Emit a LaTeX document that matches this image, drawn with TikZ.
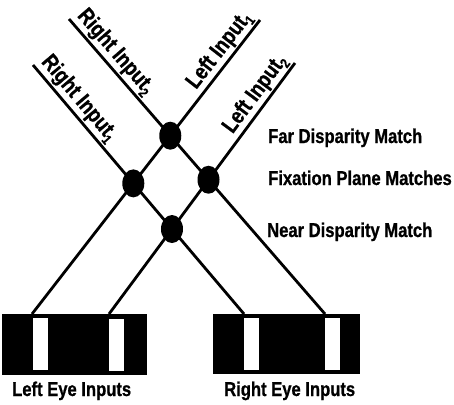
\documentclass[tikz,border=0pt]{standalone}
\usepackage{fontspec}
\usetikzlibrary{shapes.geometric}
\newfontfamily\lblfont{Liberation Sans}[FakeStretch=0.83, FakeBold=0.8]
\newcommand\lowidx[1]{\raisebox{-4.5pt}{\fontsize{14}{14}\selectfont #1}}
\begin{document}
\begin{tikzpicture}[x=1pt,y=-1pt,
  wire/.style={line width=2.8pt},
  dot/.style={ellipse,fill=black,minimum width=22pt,minimum height=28pt,inner sep=0pt},
  lbl/.style={font=\lblfont\bfseries\fontsize{20}{22}\selectfont, inner sep=0pt},
  inlbl/.style={font=\lblfont\bfseries\fontsize{22.5}{24}\selectfont, sloped, inner sep=1.5pt},
  eyebox/.style={fill=black, draw=none, inner sep=0pt, anchor=north west},
  slot/.style={fill=white, draw=none, inner sep=0pt, anchor=north west, minimum width=15pt, minimum height=52pt}]
\useasboundingbox (0,0) rectangle (454,404);
% line end points
\coordinate (l1s) at (32,314);  \coordinate (l1e) at (260,20);
\coordinate (l2s) at (109,314); \coordinate (l2e) at (295,63);
\coordinate (r1s) at (244,314); \coordinate (r1e) at (33,65);
\coordinate (r2s) at (325,314); \coordinate (r2e) at (69,19);
% input lines with labels
\draw[wire] (l1s) -- node[inlbl,pos=1,anchor=south east] (lblL1) {Left Input\lowidx{1}} (l1e);
\draw[wire] (l2s) -- node[inlbl,pos=1,anchor=south east] (lblL2) {Left Input\lowidx{2}} (l2e);
\draw[wire] (r1e) -- node[inlbl,pos=0,anchor=south west] (lblR1) {Right Input\lowidx{1}} (r1s);
\draw[wire] (r2e) -- node[inlbl,pos=0,anchor=south west] (lblR2) {Right Input\lowidx{2}} (r2s);
% match units
\node[dot] (far)  at (intersection of l1s--l1e and r2s--r2e) {};
\node[dot] (fixL) at (intersection of l1s--l1e and r1s--r1e) {};
\node[dot] (fixR) at (intersection of l2s--l2e and r2s--r2e) {};
\node[dot] (near) at (intersection of l2s--l2e and r1s--r1e) {};
% eyes
\node[eyebox, minimum width=145pt, minimum height=61pt] (lefteye) at (2,314) {};
\node[slot] (ls1) at (32.7,318) {};
\node[slot] (ls2) at (109,318.5) {};
\node[eyebox, minimum width=147pt, minimum height=60pt] (righteye) at (213,314) {};
\node[slot] (rs1) at (244,318) {};
\node[slot] (rs2) at (325,318) {};
% texts
\node[lbl, anchor=base west] (tfar)  at (268,143) {Far Disparity Match};
\node[lbl, anchor=base west] (tfix)  at (268,185) {Fixation Plane Matches};
\node[lbl, anchor=base west] (tnear) at (267,237) {Near Disparity Match};
\node[lbl, anchor=base west] (tleft)  at (12,396) {Left Eye Inputs};
\node[lbl, anchor=base west] (tright) at (224,396) {Right Eye Inputs};
\end{tikzpicture}
\end{document}
